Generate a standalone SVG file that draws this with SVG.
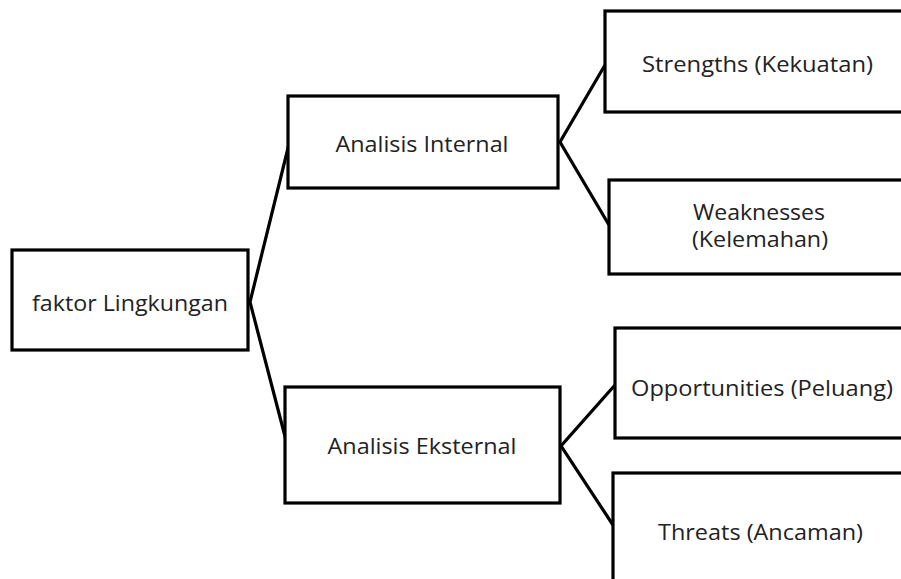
<svg xmlns="http://www.w3.org/2000/svg" width="901" height="579" viewBox="0 0 901 579">
<style>
.box{fill:#ffffff;stroke:#000000;stroke-width:3.2}
.lbl{font-family:"Open Sans","Noto Sans","Liberation Sans",sans-serif;font-size:22px;fill:#222222;text-anchor:middle}
.con{fill:none;stroke:#000000;stroke-width:3.2;stroke-linejoin:miter}
</style>
<rect width="901" height="579" fill="#ffffff"/>
<g id="connectors">
<polyline class="con" points="289,144 250,302 287,444"/>
<polyline class="con" points="605,65 560,142 609,225"/>
<polyline class="con" points="615,385 561,446 613,525"/>
</g>
<g id="faktor">
<rect class="box" x="12" y="250" width="236" height="100"/>
<text class="lbl" x="130" y="311" textLength="196" lengthAdjust="spacingAndGlyphs">faktor Lingkungan</text>
</g>
<g id="internal">
<rect class="box" x="288" y="96" width="270" height="92"/>
<text class="lbl" x="422" y="152" textLength="173" lengthAdjust="spacingAndGlyphs">Analisis Internal</text>
</g>
<g id="eksternal">
<rect class="box" x="285" y="387" width="275" height="116"/>
<text class="lbl" x="422" y="454" textLength="189" lengthAdjust="spacingAndGlyphs">Analisis Eksternal</text>
</g>
<g id="strengths">
<rect class="box" x="605" y="11" width="310" height="101"/>
<text class="lbl" x="757.5" y="72" textLength="231" lengthAdjust="spacingAndGlyphs">Strengths (Kekuatan)</text>
</g>
<g id="weaknesses">
<rect class="box" x="609" y="180" width="310" height="94"/>
<text class="lbl" x="759" y="220" textLength="132" lengthAdjust="spacingAndGlyphs">Weaknesses</text>
<text class="lbl" x="760" y="247" textLength="136" lengthAdjust="spacingAndGlyphs">(Kelemahan)</text>
</g>
<g id="opportunities">
<rect class="box" x="615" y="328" width="310" height="110"/>
<text class="lbl" x="762" y="396" textLength="262" lengthAdjust="spacingAndGlyphs">Opportunities (Peluang)</text>
</g>
<g id="threats">
<rect class="box" x="613" y="473" width="310" height="130"/>
<text class="lbl" x="760.5" y="540" textLength="205" lengthAdjust="spacingAndGlyphs">Threats (Ancaman)</text>
</g>
</svg>
